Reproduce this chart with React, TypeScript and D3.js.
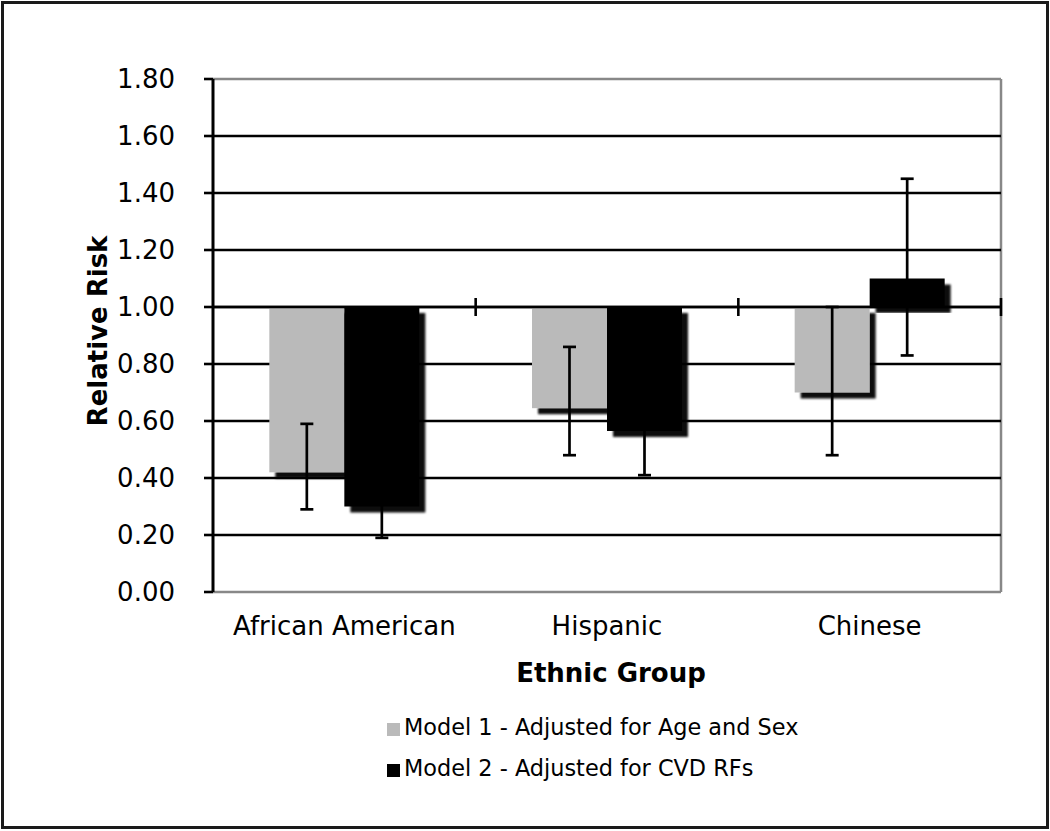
import React from "react";
import * as d3 from "d3";

const categories = ["African American", "Hispanic", "Chinese"];
const seriesNames = ["Model 1 - Adjusted for Age and Sex", "Model 2 - Adjusted for CVD RFs"];
const seriesColors = ["#bababa", "#000000"];
const model1Values = [0.42, 0.645, 0.70];
const model1Lower = [0.29, 0.48, 0.48];
const model1Upper = [0.59, 0.86, 1.0];
const model2Values = [0.30, 0.565, 1.10];
const model2Lower = [0.19, 0.41, 0.83];
const model2Upper = [0.41, 0.70, 1.45];
const yTicks = [0, 0.2, 0.4, 0.6, 0.8, 1.0, 1.2, 1.4, 1.6, 1.8];

const W = 1050;
const H = 831;
const left = 213;
const right = 1001;
const top = 79;
const bottom = 592;
const FONT = "'DejaVu Sans', Verdana, sans-serif";

export default function App() {
  const y = d3.scaleLinear().domain([0, 1.8]).range([bottom, top]);
  const x = d3.scaleBand().domain(categories).range([left, right]).padding(0);
  const bw = 75;
  const inner = d3.scaleBand().domain(seriesNames).range([0, bw * 2]).padding(0);
  const base = 1.0;

  const series = [
    { name: seriesNames[0], color: seriesColors[0], v: model1Values, lo: model1Lower, hi: model1Upper },
    { name: seriesNames[1], color: seriesColors[1], v: model2Values, lo: model2Lower, hi: model2Upper },
  ];

  const barX = (ci: number, si: number) =>
    (x(categories[ci]) as number) + x.bandwidth() / 2 - bw + (inner(seriesNames[si]) as number);

  const boundaries = categories.map((c) => (x(c) as number) + x.bandwidth());

  return (
    <svg width={W} height={H} style={{ position: "absolute", left: 0, top: 0, background: "#fff" }}>
      <defs>
        <filter id="shadow" x="-20%" y="-20%" width="140%" height="140%">
          <feGaussianBlur in="SourceAlpha" stdDeviation="1.3" result="b" />
          <feOffset in="b" dx="6" dy="6" result="o" />
          <feComponentTransfer in="o" result="s">
            <feFuncA type="linear" slope="0.95" />
          </feComponentTransfer>
          <feMerge>
            <feMergeNode in="s" />
            <feMergeNode in="SourceGraphic" />
          </feMerge>
        </filter>
      </defs>
      <rect x={0} y={0} width={W} height={H} fill="#fff" />
      <rect x={2.5} y={2.5} width={1045} height={825} fill="none" stroke="#1a1a1a" strokeWidth={3} />

      {/* plot border */}
      <line x1={left} x2={right} y1={top} y2={top} stroke="#888" strokeWidth={2.5} />
      <line x1={right} x2={right} y1={top} y2={bottom} stroke="#888" strokeWidth={2.5} />
      <line x1={left} x2={right} y1={bottom} y2={bottom} stroke="#888" strokeWidth={2.5} />

      {/* gridlines */}
      {yTicks.filter((t) => t > 0 && t < 1.8).map((t) => (
        <line key={t} x1={left} x2={right} y1={y(t)} y2={y(t)} stroke="#000" strokeWidth={2.6} />
      ))}

      {/* bars */}
      {series.map((s, si) =>
        s.v.map((v, ci) => {
          const y0 = y(Math.max(v, base));
          const y1 = y(Math.min(v, base));
          return (
            <rect key={`${si}-${ci}`} x={barX(ci, si)} y={y0} width={inner.bandwidth()} height={y1 - y0}
              fill={s.color} filter="url(#shadow)" />
          );
        })
      )}

      {/* category axis at 1.0 */}
      <line x1={left} x2={right} y1={y(base)} y2={y(base)} stroke="#000" strokeWidth={2.6} />
      {boundaries.map((b, i) => (
        <line key={i} x1={b} x2={b} y1={y(base) - 9} y2={y(base) + 9} stroke="#000" strokeWidth={2.6} />
      ))}

      {/* error bars */}
      {series.map((s, si) =>
        s.v.map((v, ci) => {
          const cx = barX(ci, si) + inner.bandwidth() / 2;
          return (
            <g key={`e${si}-${ci}`} stroke="#000" strokeWidth={2.7}>
              <line x1={cx} x2={cx} y1={y(s.lo[ci])} y2={y(s.hi[ci])} />
              <line x1={cx - 6.5} x2={cx + 6.5} y1={y(s.lo[ci])} y2={y(s.lo[ci])} />
              <line x1={cx - 6.5} x2={cx + 6.5} y1={y(s.hi[ci])} y2={y(s.hi[ci])} />
            </g>
          );
        })
      )}

      {/* y axis */}
      <line x1={left} x2={left} y1={top} y2={bottom} stroke="#000" strokeWidth={3} />
      {yTicks.map((t) => (
        <g key={t}>
          <line x1={left - 9} x2={left} y1={y(t)} y2={y(t)} stroke="#000" strokeWidth={2.6} />
          <text x={175} y={y(t)} dy="0.36em" textAnchor="end" fontFamily={FONT} fontSize={26} fill="#000">
            {t.toFixed(2)}
          </text>
        </g>
      ))}

      {/* category labels */}
      {categories.map((c) => (
        <text key={c} x={(x(c) as number) + x.bandwidth() / 2} y={635} textAnchor="middle"
          fontFamily={FONT} fontSize={26} fill="#000">{c}</text>
      ))}

      <text x={611} y={682} textAnchor="middle" fontFamily={FONT} fontSize={26} fontWeight="bold" fill="#000">
        Ethnic Group
      </text>
      <text transform={`translate(107,331) rotate(-90)`} textAnchor="middle" fontFamily={FONT} fontSize={26}
        fontWeight="bold" fill="#000">
        Relative Risk
      </text>

      {/* legend */}
      {series.map((s, si) => (
        <g key={s.name} transform={`translate(387, ${735 + si * 41})`}>
          <rect x={0} y={-12} width={13} height={13} fill={s.color} />
          <text x={17} y={0} fontFamily={FONT} fontSize={22.4} fill="#000">{s.name}</text>
        </g>
      ))}
    </svg>
  );
}
